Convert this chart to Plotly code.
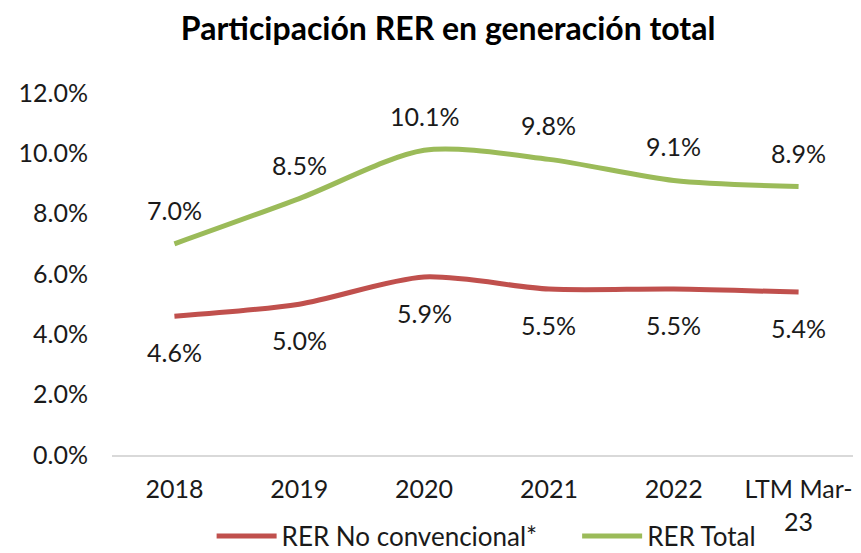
import plotly.graph_objects as go

categories = ["2018", "2019", "2020", "2021", "2022", "LTM Mar-<br>23"]
rer_no_conv = [4.6, 5.0, 5.9, 5.5, 5.5, 5.4]
rer_total = [7.0, 8.5, 10.1, 9.8, 9.1, 8.9]
y_ticks = [0, 2, 4, 6, 8, 10, 12]
y_tick_labels = ["0.0%", "2.0%", "4.0%", "6.0%", "8.0%", "10.0%", "12.0%"]

RED = "#C0504D"
GREEN = "#9BBB59"
FONT = "Lato"
TXT = "#1a1a1a"

fig = go.Figure()
fig.add_trace(go.Scatter(x=categories, y=rer_no_conv, mode="lines", name="RER No convencional*",
                         legend="legend",
                         line=dict(color=RED, width=5, shape="spline", smoothing=0.8)))
fig.add_trace(go.Scatter(x=categories, y=rer_total, mode="lines", name="RER Total",
                         legend="legend2",
                         line=dict(color=GREEN, width=5, shape="spline", smoothing=0.8)))

for i, v in enumerate(rer_total):
    fig.add_annotation(x=i, y=v, text=f"{v:.1f}%", showarrow=False, yshift=34,
                       font=dict(family=FONT, size=25, color=TXT))
for i, v in enumerate(rer_no_conv):
    fig.add_annotation(x=i, y=v, text=f"{v:.1f}%", showarrow=False, yshift=-36,
                       font=dict(family=FONT, size=25, color=TXT))

legend_common = dict(orientation="h", xanchor="left", xref="paper",
                     yref="container", y=0.031, yanchor="middle",
                     font=dict(family=FONT, size=26, color=TXT), itemwidth=60,
                     bgcolor="rgba(0,0,0,0)")

# page body has an 8px margin; the figure is sized so that it fills the window
fig.update_layout(
    width=853, height=545,
    margin=dict(l=104, r=0, t=85, b=98),
    paper_bgcolor="white", plot_bgcolor="white",
    title=dict(text="<b>Participación RER en generación total</b>", x=0.516, xanchor="center",
               y=0.962, yanchor="middle", font=dict(family=FONT, size=32, color="black")),
    font=dict(family=FONT, size=25, color=TXT),
    showlegend=True,
    legend=dict(x=0.133, **legend_common),
    legend2=dict(x=0.621, **legend_common),
    xaxis=dict(showgrid=False, showline=True, linecolor="#D9D9D9", linewidth=2,
               ticks="", ticklabelstandoff=11, range=[-0.5, 5.5], zeroline=False,
               automargin=False, tickfont=dict(family=FONT, size=25, color=TXT)),
    yaxis=dict(showgrid=False, showline=False, zeroline=False, range=[0, 12],
               tickvals=y_ticks, ticktext=y_tick_labels, ticks="", ticklabelstandoff=23,
               automargin=False, tickfont=dict(family=FONT, size=25, color=TXT)),
)

fig.write_html("out.html")
